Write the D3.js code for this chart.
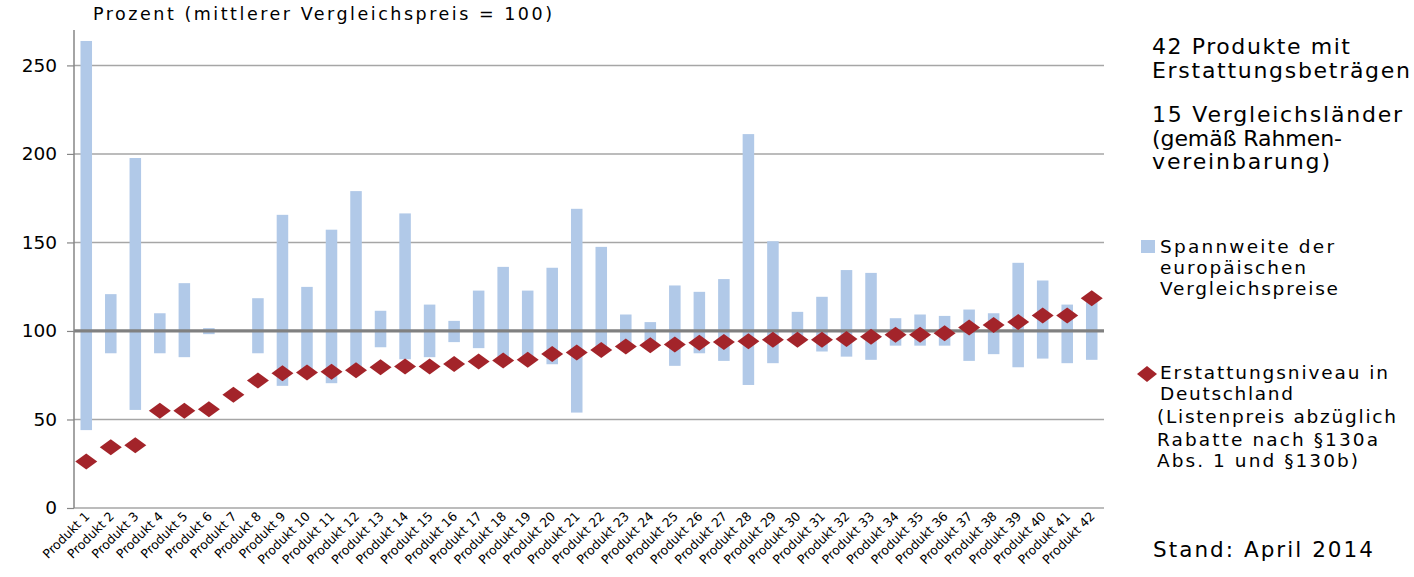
<!DOCTYPE html>
<html>
<head>
<meta charset="utf-8">
<script src="https://cdn.jsdelivr.net/npm/d3@7"></script>
<style>
  html, body { margin: 0; padding: 0; background: #ffffff; }
  svg text { font-family: "DejaVu Sans", Verdana, sans-serif; fill: #000; }
</style>
</head>
<body>
<svg id="chart" width="1414" height="577"></svg>
<script>
// Products with reimbursement amounts
const products = d3.range(1, 43).map(i => "Produkt " + i);

// Range of European comparison prices (min / max, mean comparison price = 100)
const rangeLow = [44, 87.4, 55.4, 87.4, 85.2, 98.2, 100, 87.4, 69, 77,
                  70.5, 78, 90.8, 84, 85.2, 93.7, 90.3, 84, 84, 81.2,
                  53.9, 91, 92, 93, 80.3, 87.4, 83.1, 69.5, 81.8, 94,
                  88.4, 85.5, 83.7, 91.7, 91.7, 91.7, 83.1, 86.9, 79.5, 84.4,
                  81.8, 83.7];
const rangeHigh = [263.8, 120.8, 197.7, 110, 127, 101.6, 100, 118.5, 165.6, 124.9,
                   157.2, 179, 111.4, 166.4, 114.9, 105.7, 122.8, 136.2, 122.8, 135.7,
                   169, 147.5, 109.3, 105, 125.7, 122.1, 129.3, 211.2, 150.7, 110.8,
                   119.3, 134.4, 132.8, 107.2, 109.3, 108.5, 112.1, 110, 138.5, 128.5,
                   114.9, 117.6];

// Reimbursement level in Germany
const germanyLevel = [26.2, 34.3, 35.4, 55, 55, 55.8, 63.9, 72, 76.1, 76.5,
                      77, 77.8, 79.5, 79.9, 79.9, 81.4, 82.7, 83.3, 83.7, 87,
                      87.8, 89.3, 91.2, 92, 92.3, 93.3, 93.8, 94.2, 95, 95,
                      95, 95.5, 96.8, 97.8, 97.8, 98.7, 101.9, 103.4, 105, 108.7,
                      108.7, 118.5];

const yTicks = [0, 50, 100, 150, 200, 250];

const barColor = "#b1c9e8";
const diamondColor = "#a3242a";
const gridColor = "#a6a6a6";

const svg = d3.select("#chart");

const plotLeft = 74, plotRight = 1104, plotTop = 30, plotBottom = 508;

const x = d3.scaleBand().domain(products).range([plotLeft, plotRight]).padding(0);
const y = d3.scaleLinear().domain([0, 270]).range([plotBottom, plotTop]);
const barW = x.step() * 0.47;
const cx = d => x(d) + x.bandwidth() / 2;

// Horizontal gridlines
svg.append("g")
  .selectAll("line")
  .data(yTicks.filter(t => t !== 0 && t !== 100))
  .join("line")
  .attr("x1", plotLeft).attr("x2", plotRight)
  .attr("y1", d => y(d)).attr("y2", d => y(d))
  .attr("stroke", gridColor)
  .attr("stroke-width", 1.5);

// Range bars
svg.append("g")
  .selectAll("rect")
  .data(products)
  .join("rect")
  .attr("x", d => cx(d) - barW / 2)
  .attr("width", barW)
  .attr("y", (d, i) => y(rangeHigh[i]))
  .attr("height", (d, i) => y(rangeLow[i]) - y(rangeHigh[i]))
  .attr("fill", barColor);

// Reference line at 100
svg.append("line")
  .attr("x1", plotLeft).attr("x2", plotRight)
  .attr("y1", y(100)).attr("y2", y(100))
  .attr("stroke", "#808080")
  .attr("stroke-width", 3.2);

// Bottom axis line
svg.append("line")
  .attr("x1", plotLeft).attr("x2", plotRight)
  .attr("y1", y(0)).attr("y2", y(0))
  .attr("stroke", gridColor)
  .attr("stroke-width", 1.5);

// Y axis
const yAxis = d3.axisLeft(y).tickValues(yTicks).tickSize(7).tickPadding(10).tickFormat(d3.format("d"));
const yg = svg.append("g")
  .attr("transform", `translate(${plotLeft},0)`)
  .call(yAxis);
yg.select(".domain").attr("stroke", "#868686").attr("stroke-width", 1.5)
  .attr("d", `M0,${plotTop}V${plotBottom}`);
yg.selectAll(".tick line").attr("stroke", "#868686").attr("stroke-width", 1.2);
yg.selectAll(".tick text")
  .attr("font-size", 18.5)
  .attr("font-family", "DejaVu Sans, Verdana, sans-serif")
  .attr("fill", "#000");

// Diamond markers
const dw = 11, dh = 8;
svg.append("g")
  .selectAll("path")
  .data(products)
  .join("path")
  .attr("transform", (d, i) => `translate(${cx(d)},${y(germanyLevel[i])})`)
  .attr("d", `M0,${-dh}L${dw},0L0,${dh}L${-dw},0Z`)
  .attr("fill", diamondColor);

// Category labels, rotated
svg.append("g")
  .selectAll("text")
  .data(products)
  .join("text")
  .attr("transform", d => `translate(${cx(d) + 4},${plotBottom + 9}) rotate(-45)`)
  .attr("text-anchor", "end")
  .attr("font-size", 12.5)
  .text(d => d);

// Axis title
svg.append("text")
  .attr("x", 93).attr("y", 20)
  .attr("font-size", 17.5)
  .attr("textLength", 459)
  .attr("lengthAdjust", "spacing")
  .text("Prozent (mittlerer Vergleichspreis = 100)");

// Side notes
const notes = [
  { t: "42 Produkte mit", x: 1152, y: 54, w: 198 },
  { t: "Erstattungsbeträgen", x: 1152, y: 78, w: 258 },
  { t: "15 Vergleichsländer", x: 1152, y: 122, w: 250 },
  { t: "(gemäß Rahmen-", x: 1152, y: 146, w: 190 },
  { t: "vereinbarung)", x: 1152, y: 169, w: 178 }
];
svg.append("g")
  .selectAll("text")
  .data(notes)
  .join("text")
  .attr("x", d => d.x).attr("y", d => d.y)
  .attr("font-size", 22)
  .attr("textLength", d => d.w)
  .attr("lengthAdjust", "spacing")
  .text(d => d.t);

// Legend
svg.append("rect")
  .attr("x", 1141).attr("y", 240).attr("width", 14).attr("height", 13)
  .attr("fill", barColor);
svg.append("path")
  .attr("transform", "translate(1147,374)")
  .attr("d", "M0,-8L10,0L0,8L-10,0Z")
  .attr("fill", diamondColor);

const legendText = [
  { t: "Spannweite der", x: 1160, y: 253, w: 174 },
  { t: "europäischen", x: 1160, y: 274, w: 146 },
  { t: "Vergleichspreise", x: 1160, y: 295, w: 178 },
  { t: "Erstattungsniveau in", x: 1160, y: 379, w: 228 },
  { t: "Deutschland", x: 1160, y: 400, w: 133 },
  { t: "(Listenpreis abzüglich", x: 1157, y: 423, w: 239 },
  { t: "Rabatte nach §130a", x: 1157, y: 446, w: 221 },
  { t: "Abs. 1 und §130b)", x: 1157, y: 467, w: 201 }
];
svg.append("g")
  .selectAll("text")
  .data(legendText)
  .join("text")
  .attr("x", d => d.x).attr("y", d => d.y)
  .attr("font-size", 18.5)
  .attr("textLength", d => d.w)
  .attr("lengthAdjust", "spacing")
  .text(d => d.t);

svg.append("text")
  .attr("x", 1153).attr("y", 557)
  .attr("font-size", 21.5)
  .attr("textLength", 220)
  .attr("lengthAdjust", "spacing")
  .text("Stand: April 2014");
</script>
</body>
</html>
